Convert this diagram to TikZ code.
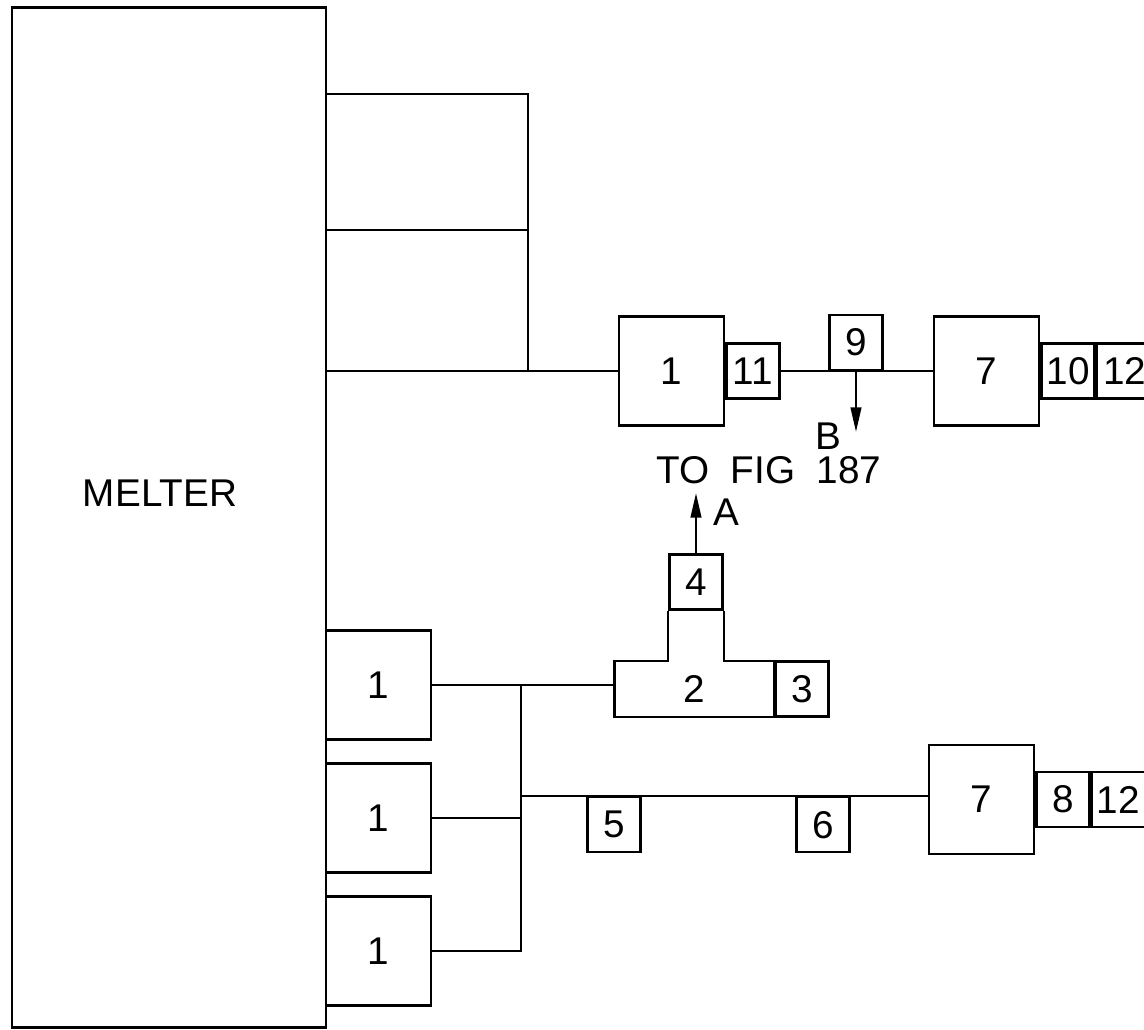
\documentclass[tikz,border=0pt]{standalone}
\usepackage{fontspec}
\setmainfont{Liberation Sans}
\usetikzlibrary{positioning,arrows.meta}
\begin{document}
\begin{tikzpicture}[x=0.01cm,y=-0.01cm,line width=0.7pt,font=\fontsize{11}{13}\selectfont,
	bigbox/.style={draw,minimum width=1.05cm,minimum height=1.09cm,inner sep=0pt},
	smallbox/.style={draw,minimum width=0.53cm,minimum height=0.55cm,inner sep=0pt},
	arr/.style={-{Triangle[length=7pt,width=3pt]}}]
	\useasboundingbox (0,0) rectangle (1144,1030);
	\node[draw,minimum width=3.14cm,minimum height=10.19cm,inner sep=0pt] (melter) at (169,517.5) {};
	\node[inner sep=0pt] (mlab) at (160,493) {MELTER};
	% upper line
	\node[bigbox] (u1) at (671.5,371) {1};
	\node[smallbox,right=0pt of u1] (u11) {11};
	\node[smallbox,anchor=south] (u9) at (856,371) {9};
	\node[bigbox] (u7) at (986.5,371) {7};
	\node[smallbox,right=0pt of u7] (u10) {10};
	\node[smallbox,minimum width=0.56cm,right=0pt of u10] (u12) {12};
	\coordinate (ja) at (528,94);
	\coordinate (jb) at (528,230);
	\coordinate (jc) at (528,371);
	\coordinate (bend) at (856,432);
	\draw (melter.east |- ja)--(ja)--(jc) (melter.east |- jb)--(jb) (melter.east |- jc)--(u1.west);
	\draw (u11.east)--(u7.west);
	\draw[arr] (u9.south)--(bend);
	\node[inner sep=0pt] (blab) at (828,436) {B};
	\node[inner sep=0pt] (tofig) at (769,470) {TO\hspace{0.55em}FIG\hspace{0.55em}187};
	\node[inner sep=0pt] (alab) at (726,512) {A};
	% lower lines
	\node[bigbox] (l1a) at (378.5,685) {1};
	\node[bigbox] (l1b) at (378.5,818) {1};
	\node[bigbox] (l1c) at (378.5,951) {1};
	\node[smallbox] (b4) at (696,582) {4};
	\node[inner sep=0pt,minimum width=1.57cm,minimum height=0.54cm] (b2) at (694.5,689) {2};
	\node[smallbox,right=0pt of b2] (b3) {3};
	\node[bigbox] (l7) at (981.5,799.5) {7};
	\node[smallbox,right=0pt of l7] (l8) {8};
	\node[smallbox,right=0pt of l8] (l12) {12};
	\node[smallbox,anchor=north] (b5) at (614,796) {5};
	\node[smallbox,anchor=north] (b6) at (823,796) {6};
	\coordinate (aend) at (696,493);
	\coordinate (bus1) at (521,685);
	\coordinate (bus2) at (521,796);
	\draw (b4.south west) |- (b2.north west) |- (b2.south east) -- (b2.north east) -| (b4.south east);
	\draw[arr] (b4.north)--(aend);
	\draw (l1a.east)--(b2.west |- l1a.east) (bus1) |- (l1c.east) (l1b.east)--(l1b.east -| bus1);
	\draw (bus2)--(bus2 -| l7.west);
\end{tikzpicture}
\end{document}
